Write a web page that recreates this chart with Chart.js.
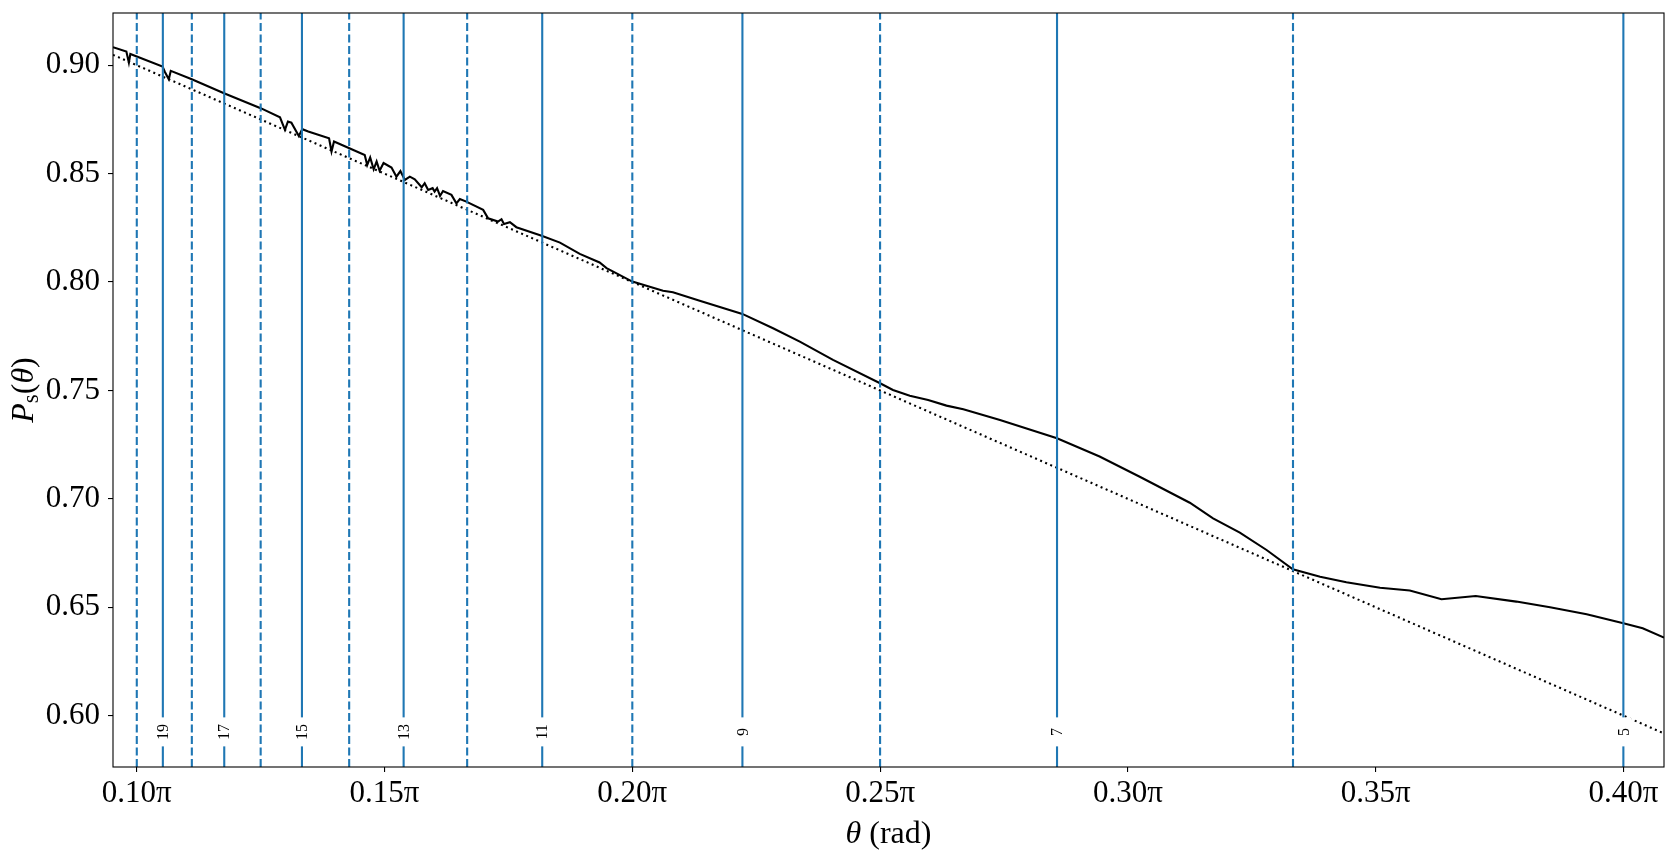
<!DOCTYPE html>
<html>
<head>
<meta charset="utf-8">
<script src="https://cdn.jsdelivr.net/npm/chart.js@4.4.1/dist/chart.umd.min.js"></script>
<style>
  html, body { margin: 0; padding: 0; background: #ffffff; }
  #wrap { width: 1676px; height: 858px; }
</style>
</head>
<body>
<div id="wrap"><canvas id="c" width="1676" height="858"></canvas></div>
<script>
// ---- data (theta in units of pi) ----
const curveTheta = [
  0.0952, 0.0979, 0.0984, 0.0987, 0.1000, 0.1052, 0.10565, 0.10646, 0.10686,
  0.1111, 0.1176, 0.1250, 0.1289, 0.1299, 0.1305, 0.1312, 0.1327, 0.1334, 0.1346,
  0.1388, 0.1393, 0.1398, 0.1429, 0.1460, 0.1465, 0.1471, 0.1478, 0.1484, 0.1490,
  0.1498, 0.1514, 0.1524, 0.1532, 0.1541, 0.1551, 0.1561, 0.1575, 0.1581, 0.1588,
  0.1597, 0.1601, 0.1606, 0.1612, 0.1618, 0.1635, 0.1645, 0.1652, 0.1665, 0.1699,
  0.1709, 0.1729, 0.1736, 0.1741, 0.1753, 0.1766, 0.1817, 0.1854, 0.1894, 0.1934,
  0.1948, 0.2000, 0.2062, 0.2082, 0.2136, 0.2222, 0.2284, 0.2338, 0.2405, 0.2500,
  0.2526, 0.2560, 0.2597, 0.2634, 0.2668, 0.2742, 0.2857, 0.2943, 0.3024, 0.3125,
  0.3172, 0.3226, 0.3280, 0.3333, 0.3388, 0.3441, 0.3509, 0.3569, 0.3633, 0.3702,
  0.3784, 0.3852, 0.3926, 0.4000, 0.4039, 0.4082
];
const curveP = [
  0.9083, 0.9063, 0.9012, 0.9052, 0.9040, 0.8994, 0.8970, 0.8935, 0.8974,
  0.8935, 0.8871, 0.8802, 0.8760, 0.8702, 0.8740, 0.8735, 0.8674, 0.8705, 0.8694,
  0.8663, 0.8602, 0.8648, 0.8617, 0.8586, 0.8540, 0.8575, 0.8520, 0.8556, 0.8513,
  0.8549, 0.8528, 0.8486, 0.8512, 0.8471, 0.8486, 0.8474, 0.8437, 0.8456, 0.8425,
  0.8433, 0.8417, 0.8433, 0.8397, 0.8420, 0.8402, 0.8363, 0.8383, 0.8371, 0.8333,
  0.8294, 0.8279, 0.8290, 0.8268, 0.8276, 0.8253, 0.8213, 0.8182, 0.8130, 0.8090,
  0.8064, 0.8002, 0.7960, 0.7953, 0.7914, 0.7853, 0.7787, 0.7725, 0.7641, 0.7533,
  0.7502, 0.7475, 0.7456, 0.7430, 0.7413, 0.7364, 0.7279, 0.7195, 0.7102, 0.6982,
  0.6910, 0.6844, 0.6764, 0.6675, 0.6641, 0.6615, 0.6590, 0.6577, 0.6537, 0.6552,
  0.6526, 0.6500, 0.6468, 0.6426, 0.6403, 0.6360
];
const refTheta = [0.0952, 0.4082];
const refP = [0.9048, 0.5918];

const oddN = [19, 17, 15, 13, 11, 9, 7, 5];
const oddTheta = [0.10526, 0.11765, 0.13333, 0.15385, 0.18182, 0.22222, 0.28571, 0.40000];
const evenN = [20, 18, 16, 14, 12, 10, 8, 6];
const evenTheta = [0.10000, 0.11111, 0.12500, 0.14286, 0.16667, 0.20000, 0.25000, 0.33333];
const labelP = 0.5925;

const xTicks = [0.10, 0.15, 0.20, 0.25, 0.30, 0.35, 0.40];
const xTickLabels = ['0.10π', '0.15π', '0.20π', '0.25π', '0.30π', '0.35π', '0.40π'];
const yTicks = [0.60, 0.65, 0.70, 0.75, 0.80, 0.85, 0.90];
const yTickLabels = ['0.60', '0.65', '0.70', '0.75', '0.80', '0.85', '0.90'];

const xMin = 0.0952, xMax = 0.4082, yMin = 0.5763, yMax = 0.9241;

// ---- build datasets ----
const BLUE = '#1f77b4';
const SERIF = '"Liberation Serif", "DejaVu Serif", serif';
const datasets = [];
datasets.push({
  label: 'Ps', data: curveTheta.map((t, i) => ({x: t, y: curveP[i]})),
  showLine: true, borderColor: '#000', borderWidth: 2.1, pointRadius: 0, tension: 0, order: 3
});
datasets.push({
  label: 'ref', data: refTheta.map((t, i) => ({x: t, y: refP[i]})),
  showLine: true, borderColor: '#000', borderWidth: 2.1, borderDash: [2, 3.5], pointRadius: 0, order: 4
});
oddTheta.forEach((t, i) => datasets.push({
  label: 'n=' + oddN[i], data: [{x: t, y: yMin}, {x: t, y: yMax}],
  showLine: true, borderColor: BLUE, borderWidth: 2.1, pointRadius: 0, order: 1
}));
evenTheta.forEach((t, i) => datasets.push({
  label: 'n=' + evenN[i], data: [{x: t, y: yMin}, {x: t, y: yMax}],
  showLine: true, borderColor: BLUE, borderWidth: 2.1, borderDash: [8, 3.5], pointRadius: 0, order: 1
}));

const decor = {
  id: 'decor',
  beforeDraw(chart) {
    const ctx = chart.ctx;
    ctx.save(); ctx.fillStyle = '#fff'; ctx.fillRect(0, 0, chart.width, chart.height); ctx.restore();
  },
  afterDatasetsDraw(chart) {
    const ctx = chart.ctx, xs = chart.scales.x, ys = chart.scales.y;
    ctx.save();
    ctx.font = '16px ' + SERIF;
    ctx.textAlign = 'center'; ctx.textBaseline = 'middle';
    oddTheta.forEach((t, i) => {
      const px = xs.getPixelForValue(t), py = ys.getPixelForValue(labelP);
      ctx.save();
      ctx.translate(px, py); ctx.rotate(-Math.PI / 2);
      ctx.fillStyle = '#fff';
      ctx.fillRect(-14.5, -8.5, 29, 17);
      ctx.fillStyle = '#000';
      ctx.fillText(String(oddN[i]), 0, 1);
      ctx.restore();
    });
    ctx.restore();
  },
  afterDraw(chart) {
    const ctx = chart.ctx, a = chart.chartArea;
    ctx.save();
    ctx.strokeStyle = '#000'; ctx.lineWidth = 1.1;
    ctx.strokeRect(a.left, a.top, a.right - a.left, a.bottom - a.top);
    ctx.fillStyle = '#000';
    ctx.textBaseline = 'alphabetic';
    const xt1 = 'θ', xt2 = ' (rad)';
    ctx.font = 'italic 32px ' + SERIF; const w1 = ctx.measureText(xt1).width;
    ctx.font = '32px ' + SERIF; const w2 = ctx.measureText(xt2).width;
    let x0 = (a.left + a.right) / 2 - (w1 + w2) / 2, yb = 843;
    ctx.textAlign = 'left';
    ctx.font = 'italic 32px ' + SERIF; ctx.fillText(xt1, x0, yb);
    ctx.font = '32px ' + SERIF; ctx.fillText(xt2, x0 + w1, yb);
    ctx.save();
    ctx.translate(33, (a.top + a.bottom) / 2); ctx.rotate(-Math.PI / 2);
    const parts = [
      {t: 'P', f: 'italic 32px ' + SERIF, dy: 0},
      {t: 's', f: '23px ' + SERIF, dy: 5},
      {t: '(', f: '32px ' + SERIF, dy: 0},
      {t: 'θ', f: 'italic 32px ' + SERIF, dy: 0},
      {t: ')', f: '32px ' + SERIF, dy: 0}
    ];
    let tw = 0;
    parts.forEach(p => { ctx.font = p.f; p.w = ctx.measureText(p.t).width; tw += p.w; });
    let cx = -tw / 2;
    parts.forEach(p => { ctx.font = p.f; ctx.fillText(p.t, cx, p.dy); cx += p.w; });
    ctx.restore();
    ctx.restore();
  }
};

new Chart(document.getElementById('c'), {
  type: 'scatter',
  data: { datasets },
  options: {
    responsive: false, animation: false,
    layout: { padding: { top: 13, right: 12, left: 0, bottom: 0 } },
    plugins: { legend: { display: false }, tooltip: { enabled: false } },
    scales: {
      x: {
        type: 'linear', min: xMin, max: xMax,
        afterBuildTicks: s => { s.ticks = xTicks.map(v => ({value: v})); },
        afterFit: s => { s.height = 91; s.paddingLeft = 0; s.paddingRight = 0; },
        ticks: {
          autoSkip: false, maxRotation: 0, padding: 3, color: '#000',
          font: { family: SERIF, size: 31 },
          callback: (v) => { const i = xTicks.findIndex(t => Math.abs(t - v) < 1e-9); return i >= 0 ? xTickLabels[i] : ''; }
        },
        grid: { display: true, drawOnChartArea: false, drawTicks: true, tickLength: 5, color: '#000', lineWidth: 1.1 },
        border: { display: false }
      },
      y: {
        type: 'linear', min: yMin, max: yMax,
        afterBuildTicks: s => { s.ticks = yTicks.map(v => ({value: v})); },
        afterFit: s => { s.width = 113; s.paddingTop = 0; s.paddingBottom = 0; },
        ticks: {
          autoSkip: false, padding: 8, color: '#000',
          font: { family: SERIF, size: 31 },
          callback: (v) => { const i = yTicks.findIndex(t => Math.abs(t - v) < 1e-9); return i >= 0 ? yTickLabels[i] : ''; }
        },
        grid: { display: true, drawOnChartArea: false, drawTicks: true, tickLength: 5, color: '#000', lineWidth: 1.1 },
        border: { display: false }
      }
    }
  },
  plugins: [decor]
});
</script>
</body>
</html>
